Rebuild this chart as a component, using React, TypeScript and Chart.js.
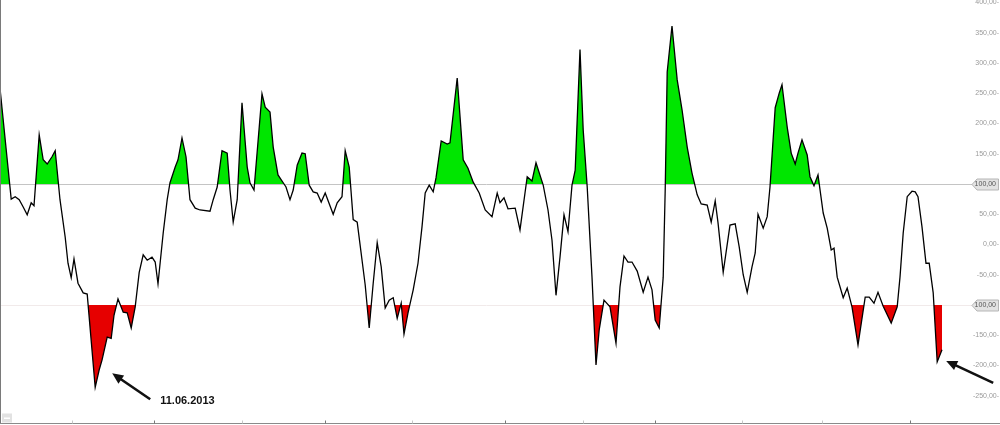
import React, { useEffect, useRef } from "react";
import { Chart, registerables } from "chart.js";

Chart.register(...registerables);

// trading-day index (horizontal position) of each traced vertex
const days = [
  0, 2.8, 3.8, 4.8, 5.8, 6.8, 7.8, 8.5, 9.8, 10.8, 11.8, 13, 13.8, 15, 16.3, 17, 17.8, 18.5, 19.5, 20.8,
  21.8, 23.8, 24.8, 25.5, 26.8, 27.8, 28.5, 29.5, 30.8, 31.8, 32.8, 33.8, 34.8, 35.8, 36.8, 38, 38.8, 39.5, 40.8, 41.8,
  42.5, 43.8, 44.5, 45.5, 46.5, 47.5, 48.8, 50, 52.5, 53.3, 54.3, 55.5, 56.8, 57.5, 58.3, 59.3, 60.5, 61.8, 62.5, 63.5,
  65.5, 66.3, 67.5, 68.3, 69.5, 70.8, 71.5, 72.5, 73.3, 74.3, 75.5, 76.3, 77.3, 78.3, 79.3, 80.3, 81.3, 83.3, 84.3, 85.5,
  86.3, 87.3, 88.3, 89.3, 91.3, 92.3, 93.3, 94.3, 95.3, 96.3, 97.3, 98.3, 99.3, 100.3, 101, 102, 103.3, 104.5, 105.5, 106.3,
  107.3, 108.3, 109, 110.3, 111.8, 112.5, 114.3, 115.8, 117, 118.3, 119.8, 121.3, 123, 124.3, 125, 126, 127, 128.8, 130, 131.8,
  133, 134, 135.8, 137, 138, 139, 140, 141, 142, 143, 143.8, 145, 145.8, 146.8, 148, 149, 149.8, 151, 152.5, 154,
  155, 156, 157, 158, 159.3, 160.8, 162, 163, 163.8, 164.8, 165.8, 166.3, 166.8, 168, 169.3, 170.5, 171.8, 173, 174.3, 175.3,
  176.8, 177.8, 178.8, 179.5, 180.8, 182.5, 183.8, 184.8, 185.8, 186.8, 188, 188.8, 189.5, 190.8, 191.8, 192.5, 193.8, 194.8, 195.5, 196.8,
  197.8, 198.8, 199.5, 200.5, 201.8, 202.5, 203.5, 204.5, 205.8, 206.8, 207.8, 208.5, 209.3, 210.8, 211.8, 213, 214.5, 216.3, 217.3, 218.5,
  219.5, 220.8, 222.8, 224.3, 225, 225.8, 226.8, 228, 228.8, 229.5, 230.5, 231.5, 232.3, 233.3, 234.3, 235.5,
];

// CCI values
const cci = [
  258, 75, 79, 74, 62, 49, 69, 64, 181, 140, 133, 145, 155, 74, 12, -31, -55, -24, -64, -80,
  -82, -236, -207, -191, -153, -155, -117, -90, -112, -113, -138, -103, -46, -17, -26, -21, -29, -65, 19, 74,
  102, 128, 140, 176, 145, 74, 60, 57, 55, 74, 95, 155, 151, 90, 37, 74, 234, 128, 102, 90,
  249, 227, 219, 161, 115, 102, 95, 74, 90, 131, 151, 150, 98, 87, 85, 70, 85, 50, 69, 79,
  155, 128, 41, 37, -67, -138, -64, 3, -37, -105, -92, -88, -122, -97, -148, -113, -75, -31, 29, 85,
  98, 87, 110, 171, 166, 168, 275, 140, 126, 103, 85, 57, 46, 85, 69, 77, 59, 60, 24, 112,
  105, 135, 98, 57, 7, -84, -21, 49, 21, 98, 123, 322, 189, 95, -54, -199, -141, -92, -103, -163,
  -70, -19, -29, -29, -44, -79, -54, -75, -125, -138, -54, 90, 285, 361, 272, 223, 161, 118, 82, 67,
  65, 37, 72, 36, -46, 32, 34, -4, -50, -79, -37, -14, 50, 27, 46, 95, 226, 250, 264, 194,
  151, 133, 151, 173, 148, 112, 97, 115, 52, 27, -9, -6, -54, -88, -72, -103, -166, -87, -87, -97,
  -79, -102, -130, -103, -54, 19, 79, 88, 87, 79, 29, -31, -31, -80, -194, -174,
];

const yTickValues = [400, 350, 300, 250, 200, 150, 100, 50, 0, -50, -100, -150, -200, -250];
const upperLevel = 100;
const lowerLevel = -100;
const levelLabels = ["100,00", "100,00"];
const monthTicks = [18, 38.5, 60.5, 81.3, 103, 126.3, 145.8, 163.8, 185.5, 205.5, 227.5];
const monthTickDark = [false, true, false, true, false, true, false, true, false, false, true];
const annotationText = "11.06.2013";
const annotationPointIndex = 21; // the 11.06.2013 low
const lastLowIndex = 214;

const FONT = "'Liberation Sans', Arial, sans-serif";

function drawArrow(ctx: CanvasRenderingContext2D, x1: number, y1: number, x2: number, y2: number) {
  const ang = Math.atan2(y2 - y1, x2 - x1);
  const head = 11;
  const hw = 5;
  ctx.save();
  ctx.strokeStyle = "#111";
  ctx.fillStyle = "#111";
  ctx.lineWidth = 2.6;
  ctx.beginPath();
  ctx.moveTo(x1, y1);
  ctx.lineTo(x2 - Math.cos(ang) * head * 0.8, y2 - Math.sin(ang) * head * 0.8);
  ctx.stroke();
  ctx.beginPath();
  ctx.moveTo(x2, y2);
  ctx.lineTo(
    x2 - Math.cos(ang) * head - Math.sin(ang) * hw,
    y2 - Math.sin(ang) * head + Math.cos(ang) * hw
  );
  ctx.lineTo(
    x2 - Math.cos(ang) * head + Math.sin(ang) * hw,
    y2 - Math.sin(ang) * head - Math.cos(ang) * hw
  );
  ctx.closePath();
  ctx.fill();
  ctx.restore();
}

const levelLinesPlugin = {
  id: "levelLines",
  beforeDatasetsDraw(chart: any) {
    const { ctx, chartArea, scales } = chart;
    const y = scales.y;
    ctx.save();
    const yu = Math.round(y.getPixelForValue(upperLevel)) + 0.5;
    ctx.strokeStyle = "#c4c4c4";
    ctx.lineWidth = 1;
    ctx.beginPath();
    ctx.moveTo(chartArea.left, yu);
    ctx.lineTo(973, yu);
    ctx.stroke();
    const yl = Math.round(y.getPixelForValue(lowerLevel)) + 0.5;
    ctx.strokeStyle = "#f1eaea";
    ctx.beginPath();
    ctx.moveTo(chartArea.left, yl);
    ctx.lineTo(973, yl);
    ctx.stroke();
    ctx.restore();
  },
  afterDraw(chart: any) {
    const { ctx, chartArea, scales } = chart;
    const x = scales.x;
    const y = scales.y;
    ctx.save();
    // left border
    ctx.strokeStyle = "#7a7a7a";
    ctx.lineWidth = 1;
    ctx.beginPath();
    ctx.moveTo(0.5, 0);
    ctx.lineTo(0.5, chartArea.bottom);
    ctx.stroke();
    // bottom axis
    const by = chartArea.bottom + 0.5;
    ctx.strokeStyle = "#8a8a8a";
    ctx.beginPath();
    ctx.moveTo(0, by);
    ctx.lineTo(1000, by);
    ctx.stroke();
    monthTicks.forEach((d, i) => {
      const px = Math.round(x.getPixelForValue(d)) + 0.5;
      ctx.strokeStyle = monthTickDark[i] ? "#777" : "#c8c8c8";
      ctx.beginPath();
      ctx.moveTo(px, by - 3);
      ctx.lineTo(px, by);
      ctx.stroke();
    });
    // small corner icon
    ctx.fillStyle = "#e2e2e2";
    ctx.fillRect(2, by - 10, 10, 9);
    ctx.fillStyle = "#ffffff";
    ctx.fillRect(4, by - 6, 6, 1.5);

    // right-hand value labels
    ctx.font = `7px ${FONT}`;
    ctx.textAlign = "right";
    ctx.textBaseline = "middle";
    ctx.fillStyle = "#9a9a9a";
    yTickValues.forEach((v) => {
      if (v === upperLevel || v === lowerLevel) return;
      const py = y.getPixelForValue(v);
      ctx.fillText(v.toFixed(2).replace(".", ",") + "-", 999, py);
    });
    // boxed level labels
    [upperLevel, lowerLevel].forEach((lv, i) => {
      const py = Math.round(y.getPixelForValue(lv)) + 0.5;
      ctx.beginPath();
      ctx.moveTo(972, py);
      ctx.lineTo(977, py - 5.5);
      ctx.lineTo(998.5, py - 5.5);
      ctx.lineTo(998.5, py + 5.5);
      ctx.lineTo(977, py + 5.5);
      ctx.closePath();
      ctx.fillStyle = "#e3e3e3";
      ctx.fill();
      ctx.strokeStyle = "#b5b5b5";
      ctx.lineWidth = 1;
      ctx.stroke();
      ctx.fillStyle = "#555";
      ctx.font = `7px ${FONT}`;
      ctx.textAlign = "right";
      ctx.fillText(levelLabels[i], 996, py);
    });

    // annotation arrows
    const p1x = x.getPixelForValue(days[annotationPointIndex]);
    const p1y = y.getPixelForValue(cci[annotationPointIndex]);
    const tip1x = p1x + 17;
    const tip1y = p1y - 14;
    const tail1x = tip1x + 38;
    const tail1y = tip1y + 26;
    drawArrow(ctx, tail1x, tail1y, tip1x, tip1y);
    ctx.fillStyle = "#111";
    ctx.font = `bold 11px ${FONT}`;
    ctx.textAlign = "left";
    ctx.textBaseline = "middle";
    ctx.fillText(annotationText, tail1x + 10, tail1y + 2);

    const p2x = x.getPixelForValue(days[lastLowIndex]);
    const p2y = y.getPixelForValue(cci[lastLowIndex]);
    const tip2x = p2x + 9;
    const tip2y = p2y - 1;
    drawArrow(ctx, tip2x + 47, tip2y + 22, tip2x, tip2y);
    ctx.restore();
  },
};

export default function App() {
  const canvasRef = useRef<HTMLCanvasElement | null>(null);

  useEffect(() => {
    const canvas = canvasRef.current;
    if (!canvas) return;
    const points = days.map((d, i) => ({ x: d, y: cci[i] }));
    const chart = new Chart(canvas, {
      type: "line",
      data: {
        datasets: [
          {
            data: points,
            borderColor: "#000000",
            borderWidth: 1.3,
            pointRadius: 0,
            tension: 0,
            backgroundColor: "#00e600",
            fill: { target: { value: upperLevel }, above: "#00e600", below: "rgba(0,0,0,0)" },
          } as any,
          {
            data: points,
            borderColor: "rgba(0,0,0,0)",
            borderWidth: 0,
            pointRadius: 0,
            tension: 0,
            backgroundColor: "#e60000",
            fill: { target: { value: lowerLevel }, above: "rgba(0,0,0,0)", below: "#e60000" },
          } as any,
        ],
      },
      options: {
        responsive: false,
        animation: false,
        devicePixelRatio: 1,
        layout: { padding: { left: 0, right: 55, top: 0, bottom: 2 } },
        scales: {
          x: { type: "linear", min: 0, max: 236.25, display: false },
          y: { min: -295, max: 404, display: false },
        },
        plugins: {
          legend: { display: false },
          tooltip: { enabled: false },
        },
      },
      plugins: [levelLinesPlugin],
    });
    return () => chart.destroy();
  }, []);

  return (
    <div style={{ position: "absolute", left: 0, top: 0, width: 1000, height: 425, background: "#fff" }}>
      <canvas ref={canvasRef} width={1000} height={425} style={{ display: "block" }} />
    </div>
  );
}
